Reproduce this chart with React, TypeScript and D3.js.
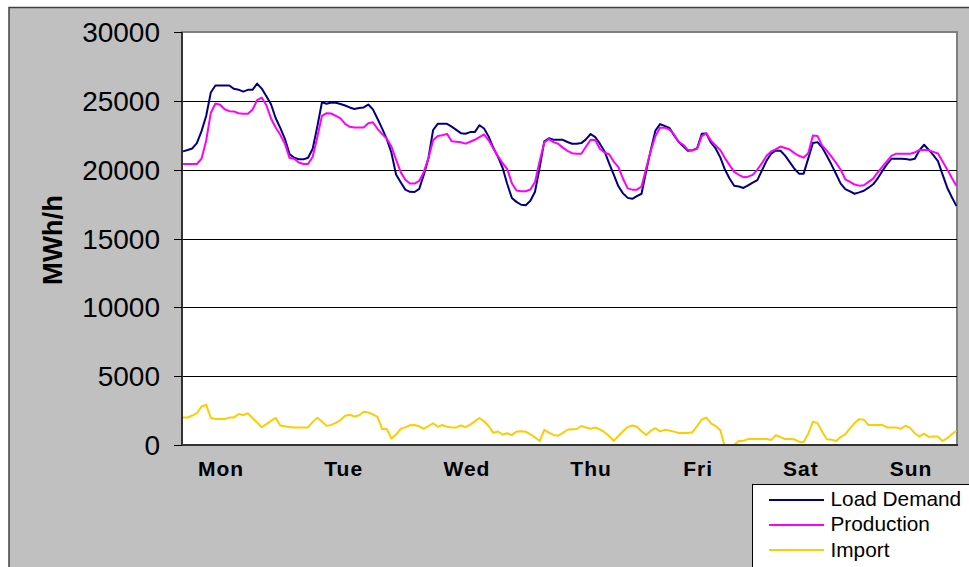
import React from 'react';
import * as d3 from 'd3';

// Hourly values over one week (168 hours)
const loadDemand: number[] = [
  21330, 21430, 21540, 21930, 22800, 23900, 25600, 26110, 26110, 26110, 26110, 25870, 25810, 25670, 25800, 25800,
  26250, 25890, 25330, 24750, 23750, 23040, 22240, 21130, 20870, 20760, 20750, 20870, 21520, 23130, 24900, 24790,
  24880, 24860, 24770, 24660, 24520, 24410, 24480, 24520, 24730, 24380, 23700, 22980, 22220, 21230, 19650, 19090,
  18550, 18390, 18380, 18600, 19640, 20850, 22880, 23330, 23330, 23330, 23130, 22890, 22650, 22610, 22730, 22730,
  23230, 22990, 22400, 21590, 20930, 20140, 18960, 17950, 17660, 17450, 17420, 17740, 18400, 20150, 22060, 22280,
  22170, 22170, 22170, 22010, 21880, 21880, 21930, 22200, 22590, 22370, 21890, 21340, 20450, 19640, 18790, 18280,
  17950, 17880, 18080, 18250, 19900, 21440, 22840, 23310, 23170, 23040, 22510, 22030, 21700, 21370, 21410, 21550,
  22600, 22620, 21960, 21540, 20890, 20010, 19360, 18830, 18780, 18670, 18860, 19050, 19240, 19950, 20660, 21170,
  21400, 21370, 21020, 20550, 20070, 19710, 19710, 20820, 21940, 22000, 21610, 21010, 20370, 19690, 18990, 18590,
  18420, 18250, 18350, 18470, 18690, 18940, 19370, 19910, 20400, 20800, 20800, 20800, 20770, 20720, 20790, 21410,
  21810, 21450, 21050, 20620, 19640, 18690, 18000, 17350,
];

const production: number[] = [
  20410, 20410, 20410, 20410, 20800, 22100, 24120, 24810, 24720, 24390, 24250, 24230, 24100, 24060, 24060, 24350,
  25050, 25240, 24680, 23720, 23060, 22530, 21880, 20850, 20790, 20520, 20410, 20410, 20940, 22370, 23910, 24100,
  24080, 23910, 23720, 23320, 23110, 23070, 23070, 23070, 23370, 23440, 22970, 22580, 22250, 21680, 20740, 19820,
  19270, 19000, 18990, 19180, 19840, 20850, 22140, 22450, 22500, 22600, 22070, 22030, 21990, 21890, 22030, 22170,
  22370, 22560, 22130, 21540, 20980, 20470, 20040, 19020, 18480, 18430, 18430, 18560, 19110, 20620, 21980, 22220,
  22000, 21880, 21600, 21370, 21200, 21160, 21160, 21660, 22170, 22150, 21520, 21250, 21120, 20590, 20180, 19340,
  18640, 18550, 18550, 18780, 20110, 21380, 22450, 23040, 23050, 22920, 22560, 22030, 21810, 21440, 21400, 21520,
  22430, 22640, 22100, 21760, 21420, 20840, 20330, 19840, 19630, 19450, 19490, 19620, 20010, 20470, 21010, 21330,
  21490, 21680, 21570, 21460, 21200, 21010, 20870, 21210, 22490, 22440, 21750, 21380, 20940, 20500, 19990, 19300,
  19120, 18920, 18840, 18870, 19110, 19350, 19810, 20220, 20620, 21020, 21160, 21160, 21160, 21160, 21250, 21430,
  21430, 21410, 21290, 21170, 20600, 20020, 19390, 18820,
];

const importFlow: number[] = [
  2000, 2000, 2140, 2320, 2800, 2920, 1980, 1880, 1880, 1880, 1990, 2000, 2250, 2180, 2300, 1960,
  1630, 1290, 1520, 1750, 1970, 1410, 1360, 1310, 1280, 1280, 1280, 1280, 1680, 1980, 1700, 1390,
  1460, 1610, 1810, 2120, 2200, 2070, 2160, 2420, 2360, 2220, 2040, 1160, 1160, 470, 760, 1180,
  1280, 1440, 1450, 1350, 1180, 1380, 1580, 1320, 1450, 1320, 1280, 1280, 1420, 1300, 1480, 1720,
  1960, 1720, 1380, 880, 980, 760, 850, 720, 980, 990, 970, 780, 560, 290, 1100, 900,
  730, 680, 880, 1110, 1140, 1160, 1380, 1270, 1180, 1270, 1130, 930, 650, 300, 650, 1000,
  1300, 1420, 1330, 1000, 720, 1040, 1220, 990, 1100, 1050, 970, 870, 870, 870, 930, 1380,
  1850, 1990, 1570, 1370, 1080, -150, -400, 20, 290, 310, 430, 430, 430, 430, 430, 370,
  710, 570, 430, 430, 410, 240, 220, 820, 1700, 1590, 960, 420, 390, 290, 580, 790,
  1210, 1590, 1880, 1840, 1450, 1450, 1450, 1450, 1280, 1280, 1280, 1180, 1400, 1250, 850, 620,
  820, 590, 620, 610, 290, 500, 780, 1040,
];

const yTicks: number[] = [0, 5000, 10000, 15000, 20000, 25000, 30000];
const dayLabels: string[] = ['Mon', 'Tue', 'Wed', 'Thu', 'Fri', 'Sat', 'Sun'];
const dayLabelHours: number[] = [8.2, 34.7, 61.3, 88.1, 111.2, 133.4, 157.2];
const seriesNames: string[] = ['Load Demand', 'Production', 'Import'];
const seriesColors: string[] = ['#000080', '#FF00FF', '#FFCC00'];

export default function App() {
  const W = 969;
  const H = 567;
  const plotLeft = 182;
  const plotRight = 957;
  const plotTop = 32;
  const plotBottom = 445;

  const x = d3.scaleLinear().domain([0, loadDemand.length - 1]).range([183, 956.5]);
  const y = d3.scaleLinear().domain([0, 30000]).range([plotBottom, plotTop]);
  const line = d3
    .line<number>()
    .x((_, i) => x(i))
    .y((d) => y(d));

  const series = [loadDemand, production, importFlow];
  const font = "'Liberation Sans', Arial, sans-serif";

  return (
    <svg
      width={W}
      height={H}
      viewBox={`0 0 ${W} ${H}`}
      style={{ position: 'absolute', left: 0, top: 0, display: 'block' }}
    >
      <defs>
        <clipPath id="plotClip">
          <rect x={plotLeft} y={plotTop} width={plotRight - plotLeft} height={plotBottom - plotTop} />
        </clipPath>
      </defs>
      <rect x={0} y={0} width={W} height={H} fill="#ffffff" />
      <rect x={9} y={7.5} width={1200} height={800} fill="#C0C0C0" stroke="#404040" strokeWidth={1.5} />

      {/* plot area */}
      <rect
        x={plotLeft}
        y={plotTop}
        width={plotRight - plotLeft}
        height={plotBottom - plotTop}
        fill="#ffffff"
        stroke="#808080"
        strokeWidth={2}
      />

      {/* gridlines */}
      {yTicks
        .filter((t) => t > 0 && t < 30000)
        .map((t) => (
          <line key={`g${t}`} x1={plotLeft} x2={plotRight} y1={Math.round(y(t)) + 0.5} y2={Math.round(y(t)) + 0.5} stroke="#000" strokeWidth={1} />
        ))}

      {/* series */}
      <g clipPath="url(#plotClip)">
        {series.map((s, i) => (
          <path key={seriesNames[i]} d={line(s) || ''} fill="none" stroke={seriesColors[i]} strokeWidth={2} strokeLinejoin="round" />
        ))}
      </g>

      {/* axes */}
      <line x1={plotLeft} x2={plotLeft} y1={plotTop} y2={plotBottom + 1} stroke="#333" strokeWidth={2} />
      <line x1={plotLeft - 1} x2={plotRight + 1} y1={plotBottom} y2={plotBottom} stroke="#333" strokeWidth={2} />

      {/* y ticks & labels */}
      {yTicks.map((t) => (
        <g key={`t${t}`}>
          <line x1={174} x2={plotLeft} y1={Math.round(y(t)) + 0.5} y2={Math.round(y(t)) + 0.5} stroke="#000" strokeWidth={1} />
          <text x={160} y={y(t)} dy="0.36em" textAnchor="end" fontFamily={font} fontSize={28} fill="#000">
            {t}
          </text>
        </g>
      ))}

      <text
        transform={`translate(62, 240) rotate(-90)`}
        textAnchor="middle"
        fontFamily={font}
        fontSize={28}
        fontWeight="bold"
        fill="#000"
        textLength={90}
        lengthAdjust="spacingAndGlyphs"
      >
        MWh/h
      </text>

      {/* x labels */}
      {dayLabels.map((d, i) => (
        <text
          key={d}
          x={x(dayLabelHours[i])}
          y={475.5}
          textAnchor="middle"
          fontFamily={font}
          fontSize={21}
          fontWeight="bold"
          letterSpacing={1}
          fill="#000"
        >
          {d}
        </text>
      ))}

      {/* legend */}
      <rect x={752.5} y={484.5} width={400} height={200} fill="#ffffff" stroke="#000" strokeWidth={1} />
      {seriesNames.map((n, i) => (
        <g key={`l${n}`}>
          <line x1={769} x2={824} y1={500 + i * 25} y2={500 + i * 25} stroke={seriesColors[i]} strokeWidth={2} />
          <text x={830.5} y={505.5 + i * 25.5} fontFamily={font} fontSize={20.8} fill="#000">
            {n}
          </text>
        </g>
      ))}
    </svg>
  );
}
